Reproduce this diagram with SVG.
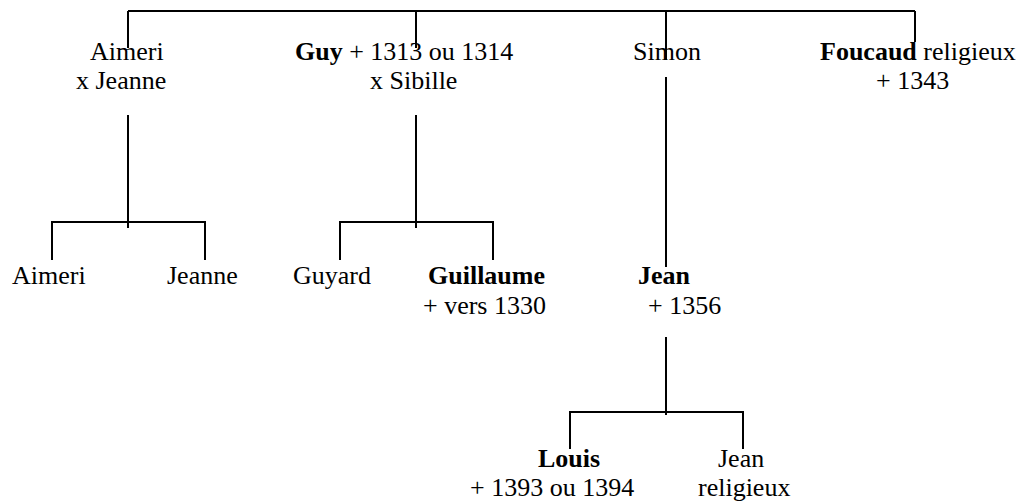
<svg xmlns="http://www.w3.org/2000/svg" width="1021" height="501" viewBox="0 0 1021 501">
<style>
text{font-family:'Liberation Serif','Times New Roman',Times,serif;font-size:26px;fill:#000}
.b{font-weight:bold}
.c{fill:none;stroke:#000;stroke-width:2}
</style>
<rect width="1021" height="501" fill="#fff"/>
<g id="connectors" class="c">
<path d="M128,11H915M128,11V48M416,11V48M666,11V60M915,11V42"/>
<path d="M128,115V228M52,260V222H205V260"/>
<path d="M416,115V228M340,260V222H493V260"/>
<path d="M666,77V267"/>
<path d="M666,337V415M570,449V412H743V449"/>
</g>
<g font-family="Liberation Serif, serif">
<g id="aimeri"><text x="90" y="60">Aimeri</text><text x="76" y="89">x Jeanne</text></g>
<g id="guy"><text x="295" y="60"><tspan class="b">Guy</tspan> + 1313 ou 1314</text><text x="370" y="89">x Sibille</text></g>
<g id="simon"><text x="633" y="60">Simon</text></g>
<g id="foucaud"><text x="820" y="60"><tspan class="b">Foucaud</tspan> religieux</text><text x="876" y="89">+ 1343</text></g>
<g id="aimeri2"><text x="12" y="284">Aimeri</text></g>
<g id="jeanne"><text x="167" y="284">Jeanne</text></g>
<g id="guyard"><text x="293" y="284">Guyard</text></g>
<g id="guillaume"><text class="b" x="428" y="284">Guillaume</text><text x="423" y="314">+ vers 1330</text></g>
<g id="jean"><text class="b" x="638" y="284">Jean</text><text x="648" y="314">+ 1356</text></g>
<g id="louis"><text class="b" x="538" y="467">Louis</text><text x="470" y="496">+ 1393 ou 1394</text></g>
<g id="jean2"><text x="718" y="467">Jean</text><text x="698" y="496">religieux</text></g>
</g>
</svg>
